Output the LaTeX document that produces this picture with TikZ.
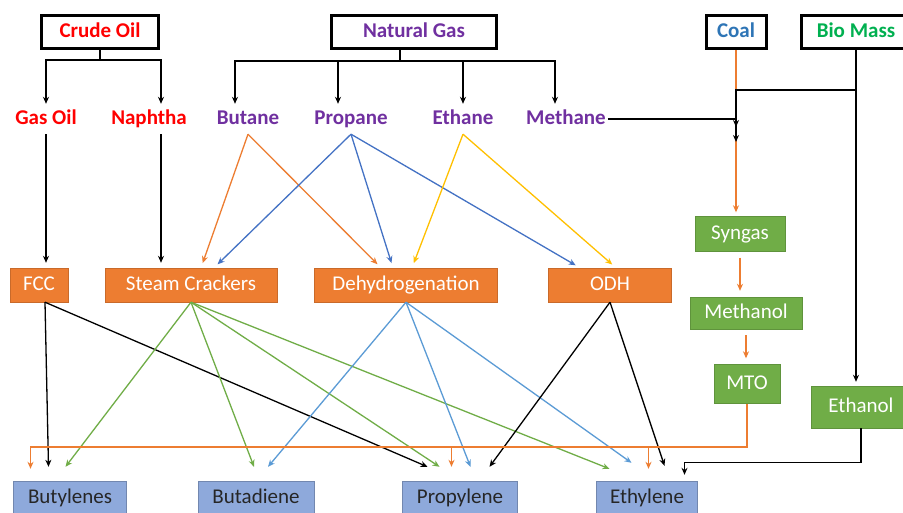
\documentclass[tikz,border=0pt]{standalone}
\usepackage{fontspec}
\setmainfont{Carlito}
\usetikzlibrary{positioning,arrows.meta}
\definecolor{srcred}{HTML}{FF0000}
\definecolor{gaspurple}{HTML}{7030A0}
\definecolor{coalblue}{HTML}{2E75B6}
\definecolor{biogreen}{HTML}{00B050}
\definecolor{procorange}{HTML}{ED7D31}
\definecolor{routegreen}{HTML}{70AD47}
\definecolor{prodblue}{HTML}{8EA9DB}
\definecolor{linkblue}{HTML}{4472C4}
\definecolor{linklight}{HTML}{5B9BD5}
\definecolor{linkyellow}{HTML}{FFC000}
\begin{document}
\begin{tikzpicture}[
  x=1pt, y=-1pt,
  >={Stealth[length=7pt,width=6pt]},
  source/.style={
    rectangle, draw, line width=3pt, minimum height=33pt, inner sep=0pt,
    text height=14pt, text depth=4pt,
    font=\fontsize{21}{24}\selectfont\bfseries
  },
  feed/.style={
    font=\fontsize{21}{24}\selectfont\bfseries,
    text height=14pt, text depth=4pt, inner ysep=6pt, inner xsep=2pt
  },
  process/.style={
    rectangle, fill=procorange, draw=procorange!85!black, text=white,
    minimum height=34pt, inner sep=0pt, text height=14pt, text depth=4pt,
    font=\fontsize{21}{24}\selectfont
  },
  route/.style={
    rectangle, fill=routegreen, draw=routegreen!85!black, text=white,
    inner sep=0pt, text height=14pt, text depth=4pt,
    font=\fontsize{21}{24}\selectfont
  },
  product/.style={
    rectangle, fill=prodblue, draw=prodblue!80!black, text=black!85,
    minimum height=34pt, inner sep=0pt, text height=14pt, text depth=4pt,
    font=\fontsize{21}{24}\selectfont
  },
  arrow/.style={->, line width=1.3pt}
]
\path[use as bounding box, fill=white] (0,0) rectangle (903,512);

\node (crude) [source, text=srcred, minimum width=117pt] at (100,32) {Crude Oil};
\node (natgas) [source, text=gaspurple, minimum width=165pt] at (414,32) {Natural Gas};
\node (coal) [source, text=coalblue, minimum width=60pt] at (736,32) {Coal};
\node (biomass) [source, text=biogreen, minimum width=110pt] at (856,32) {Bio Mass};

\node (gasoil) [feed, text=srcred] at (46,119) {Gas Oil};
\node (naphtha) [feed, text=srcred] at (149,119) {Naphtha};
\node (butane) [feed, text=gaspurple] at (248,119) {Butane};
\node (propane) [feed, text=gaspurple] at (351,119) {Propane};
\node (ethane) [feed, text=gaspurple] at (463,119) {Ethane};
\node (methane) [feed, text=gaspurple] at (566,119) {Methane};

\node (fcc) [process, minimum width=58pt] at (39,285) {FCC};
\node (cracker) [process, minimum width=172pt] at (191,285) {Steam Crackers};
\node (dehydro) [process, minimum width=183pt] at (406,285) {Dehydrogenation};
\node (odh) [process, minimum width=123pt] at (610,285) {ODH};

\node (syngas) [route, minimum width=90pt, minimum height=35pt] at (740,234) {Syngas};
\node (methanol) [route, minimum width=112pt, minimum height=32pt] at (746,313) {Methanol};
\node (mto) [route, minimum width=66pt, minimum height=39pt] at (747,384) {MTO};
\node (ethanol) [route, minimum width=100pt, minimum height=42pt] at (861,407) {Ethanol};

\node (butylenes) [product, minimum width=113pt] at (70,498) {Butylenes};
\node (butadiene) [product, minimum width=116pt] at (256,498) {Butadiene};
\node (propylene) [product, minimum width=115pt] at (460,498) {Propylene};
\node (ethylene) [product, minimum width=101pt] at (647,498) {Ethylene};

\coordinate (split) at (0,90);
\coordinate (bus) at (0,447);

\draw[arrow] (crude.south) -- ++(0,10) -| (gasoil.north);
\draw[arrow] (crude.south) -- ++(0,10) -| ([xshift=12pt]naphtha.north);
\draw[arrow] ([xshift=-14pt]natgas.south) -- ++(0,11) -| ([xshift=-13pt]butane.north);
\draw[arrow] ([xshift=-14pt]natgas.south) -- ++(0,11) -| ([xshift=-13pt]propane.north);
\draw[arrow] ([xshift=-14pt]natgas.south) -- ++(0,11) -| (ethane.north);
\draw[arrow] ([xshift=-14pt]natgas.south) -- ++(0,11) -| ([xshift=-11pt]methane.north);

\draw[arrow, shorten >=5pt] (gasoil.south) -- (gasoil.south |- fcc.north);
\draw[arrow, shorten >=5pt] ([xshift=12pt]naphtha.south) -- ([xshift=12pt]naphtha.south |- cracker.north);
\draw[arrow, procorange, shorten >=5pt] (butane.south) -- ([xshift=10pt]cracker.north);
\draw[arrow, procorange, shorten >=5pt] (butane.south) -- ([xshift=-25pt]dehydro.north);
\draw[arrow, linkblue, shorten >=5pt] (propane.south) -- ([xshift=23pt]cracker.north);
\draw[arrow, linkblue, shorten >=5pt] (propane.south) -- ([xshift=-13pt]dehydro.north);
\draw[arrow, linkblue, shorten >=5pt] (propane.south) -- ([xshift=-30pt]odh.north);
\draw[arrow, linkyellow, shorten >=5pt] (ethane.south) -- ([xshift=6pt]dehydro.north);
\draw[arrow, linkyellow, shorten >=5pt] (ethane.south) -- ([xshift=6pt]odh.north);

\draw[arrow, procorange, shorten >=4pt] (coal.south) -- (coal.south |- syngas.north);
\draw[arrow] (methane.east) -- (methane.east -| coal.south) -- ++(0,8);
\draw[arrow] (biomass.south |- split) -- (coal.south |- split) -- ++(0,52);
\draw[arrow, shorten >=4pt] (biomass.south) -- (biomass.south |- ethanol.north);
\draw[arrow, procorange, shorten <=6pt, shorten >=6pt] (syngas.south) -- (syngas.south |- methanol.north);
\draw[arrow, procorange, shorten <=6pt, shorten >=6pt] (methanol.south) -- (methanol.south |- mto.north);

\draw[arrow] ([xshift=6pt]fcc.south) -- ([xshift=-21.5pt,yshift=14pt]butylenes.north);
\draw[arrow] ([xshift=6pt]fcc.south) -- ([xshift=-32.5pt,yshift=14pt]propylene.north);
\draw[arrow, routegreen] (cracker.south) -- ([xshift=-4.5pt,yshift=14pt]butylenes.north);
\draw[arrow, routegreen] (cracker.south) -- ([xshift=-2pt,yshift=14pt]butadiene.north);
\draw[arrow, routegreen] (cracker.south) -- ([xshift=-20.5pt,yshift=14pt]propylene.north);
\draw[arrow, routegreen] (cracker.south) -- ([xshift=-37.5pt,yshift=12pt]ethylene.north);
\draw[arrow, linklight] (dehydro.south) -- ([xshift=12pt,yshift=14pt]butadiene.north);
\draw[arrow, linklight] (dehydro.south) -- ([xshift=10.5pt,yshift=14pt]propylene.north);
\draw[arrow, linklight] (dehydro.south) -- ([xshift=-15.5pt,yshift=18pt]ethylene.north);
\draw[arrow] (odh.south) -- ([xshift=29.5pt,yshift=14pt]propylene.north);
\draw[arrow] (odh.south) -- ([xshift=17.5pt,yshift=15pt]ethylene.north);

\draw[arrow, procorange] (mto.south) |- ([xshift=-39.5pt]butylenes.north |- bus) -- ([xshift=-39.5pt,yshift=12pt]butylenes.north);
\draw[arrow, procorange] ([xshift=-8.5pt]propylene.north |- bus) -- ([xshift=-8.5pt,yshift=14pt]propylene.north);
\draw[arrow, procorange] ([xshift=1.5pt]ethylene.north |- bus) -- ([xshift=1.5pt,yshift=12pt]ethylene.north);
\draw[arrow] (ethanol.south) -- ++(0,34) -| ([xshift=37.5pt,yshift=6pt]ethylene.north);
\end{tikzpicture}
\end{document}
